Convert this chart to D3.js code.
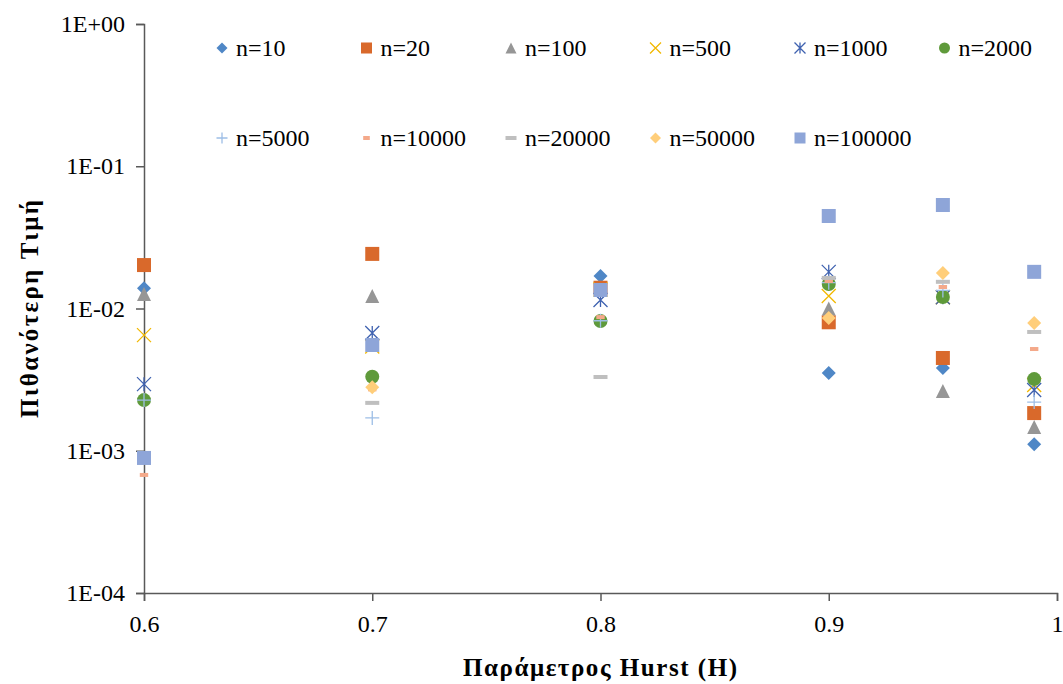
<!DOCTYPE html>
<html><head><meta charset="utf-8">
<script src="https://cdn.jsdelivr.net/npm/d3@7"></script>
<style>body{margin:0;background:#fff}svg{display:block}</style>
</head><body>
<svg id="chart" width="1063" height="684"></svg>
<script>
const hurst = [0.6, 0.7, 0.8, 0.9, 0.95, 0.99];
const seriesNames = ["n=10","n=20","n=100","n=500","n=1000","n=2000","n=5000","n=10000","n=20000","n=50000","n=100000"];
const n10     = [0.0139, null, 0.0169, 0.00352, 0.00382, 0.00111];
const n20     = [0.0202, 0.0242, 0.0140, 0.0080, 0.00449, 0.00184];
const n100    = [0.01265, 0.01225, null, 0.0100, 0.00263, 0.00147];
const n500    = [0.0065, 0.0054, 0.0136, 0.01225, 0.0120, 0.0029];
const n1000   = [0.00294, 0.00673, 0.01147, 0.0181, 0.0120, 0.00267];
const n2000   = [0.00227, 0.00331, 0.00817, 0.01486, 0.01205, 0.00319];
const n5000   = [0.00227, 0.0017, 0.0082, 0.0152, 0.0134, 0.0022];
const n10000  = [0.000676, 0.0027, 0.0087, 0.0156, 0.01416, 0.00519];
const n20000  = [null, 0.00217, 0.0033, 0.0164, 0.0154, 0.00684];
const n50000  = [null, 0.0028, null, 0.00857, 0.0178, 0.0079];
const n100000 = [0.00089, 0.00554, 0.01349, 0.0447, 0.0534, 0.0181];
const xTicks = [0.6, 0.7, 0.8, 0.9, 1];
const yTicks = [1, 0.1, 0.01, 0.001, 0.0001];
const yTickLabels = ["1E+00","1E-01","1E-02","1E-03","1E-04"];

const allValues = [n10,n20,n100,n500,n1000,n2000,n5000,n10000,n20000,n50000,n100000];
const colors = ["#4F87C6","#D9692B","#969696","#F2B800","#3F62B0","#5F9A3B","#9DBEE6","#F4A98A","#BFBFBF","#FFCE7A","#8EA5D8"];
const shapes = ["diamond","square","triangle","x","star","circle","plus","dashS","dashL","diamond","square"];

const FONT = '"Liberation Serif","Times New Roman",Times,"DejaVu Serif"';
const svg = d3.select("#chart");
const x = d3.scaleLinear().domain([0.6, 1]).range([144, 1057]);
const y = d3.scaleLog().domain([0.0001, 1]).range([593, 24]);

const xAxis = d3.axisBottom(x).tickValues(xTicks).tickSize(8).tickFormat(d => d === 1 ? "1" : d3.format(".1f")(d));
const gx = svg.append("g").attr("transform", `translate(0,${y(0.0001)})`).call(xAxis);
gx.attr("font-family", null);
gx.select(".domain").attr("stroke", "#595959").attr("stroke-width", 1.5);
gx.selectAll(".tick line").attr("stroke", "#595959").attr("stroke-width", 1.5);
gx.selectAll(".tick text").style("font-family", FONT).attr("font-size", 24).attr("fill", "#000").attr("dy", "1.15em");

const yAxis = d3.axisLeft(y).tickValues(yTicks).tickSize(8).tickFormat((d, i) => yTickLabels[i]);
const gy = svg.append("g").attr("transform", `translate(${x(0.6)},0)`).call(yAxis);
gy.attr("font-family", null);
gy.select(".domain").attr("stroke", "#595959").attr("stroke-width", 1.5);
gy.selectAll(".tick line").attr("stroke", "#595959").attr("stroke-width", 1.5);
gy.selectAll(".tick text").style("font-family", FONT).attr("font-size", 24).attr("fill", "#000").attr("x", -19);

svg.append("text").attr("x", 600).attr("y", 676).attr("text-anchor", "middle")
  .style("font-family", FONT).attr("font-size", 25).attr("font-weight", "bold")
  .attr("textLength", 274).attr("lengthAdjust", "spacing").text("Παράμετρος Hurst (H)");
svg.append("text").attr("transform", "translate(38,309) rotate(-90)").attr("text-anchor", "middle")
  .style("font-family", FONT).attr("font-size", 25).attr("font-weight", "bold")
  .attr("textLength", 218).attr("lengthAdjust", "spacing").text("Πιθανότερη Τιμή");

function drawMarker(g, shape, color, s) {
  const h = s / 2;
  switch (shape) {
    case "diamond":
      g.append("path").attr("d", `M0,${-h}L${h},0L0,${h}L${-h},0Z`).attr("fill", color); break;
    case "square":
      g.append("rect").attr("x", -h).attr("y", -h).attr("width", s).attr("height", s).attr("fill", color); break;
    case "triangle":
      g.append("path").attr("d", `M0,${-h}L${h},${h}L${-h},${h}Z`).attr("fill", color); break;
    case "circle":
      g.append("circle").attr("r", h).attr("fill", color); break;
    case "x":
      g.append("path").attr("d", `M${-h},${-h}L${h},${h}M${h},${-h}L${-h},${h}`).attr("stroke", color).attr("stroke-width", 1.3).attr("fill", "none"); break;
    case "star":
      g.append("path").attr("d", `M${-h},${-h}L${h},${h}M${h},${-h}L${-h},${h}M0,${-h}L0,${h}`).attr("stroke", color).attr("stroke-width", 1.3).attr("fill", "none"); break;
    case "plus":
      g.append("path").attr("d", `M${-h},0L${h},0M0,${-h}L0,${h}`).attr("stroke", color).attr("stroke-width", 1.3).attr("fill", "none"); break;
    case "dashS":
      g.append("rect").attr("x", -s * 0.3).attr("y", -2).attr("width", s * 0.6).attr("height", 4).attr("fill", color); break;
    case "dashL":
      g.append("rect").attr("x", -h).attr("y", -2).attr("width", s).attr("height", 4).attr("fill", color); break;
  }
}

const plot = svg.append("g");
allValues.forEach((vals, si) => {
  const gs = plot.append("g");
  vals.forEach((v, i) => {
    if (v == null) return;
    const m = gs.append("g").attr("transform", `translate(${x(hurst[i])},${y(v)})`);
    drawMarker(m, shapes[si], colors[si], 14);
  });
});

const legX0 = 222, legDX = 144.5, legRows = [48, 138];
seriesNames.forEach((name, i) => {
  const row = i < 6 ? 0 : 1;
  const col = i < 6 ? i : i - 6;
  const g = svg.append("g").attr("transform", `translate(${legX0 + col * legDX},${legRows[row]})`);
  drawMarker(g, shapes[i], colors[i], 11);
  g.append("text").attr("x", 14).attr("y", 0).attr("dy", "0.35em")
    .style("font-family", FONT).attr("font-size", 24).attr("fill", "#000").text(name);
});
</script>
</body></html>
